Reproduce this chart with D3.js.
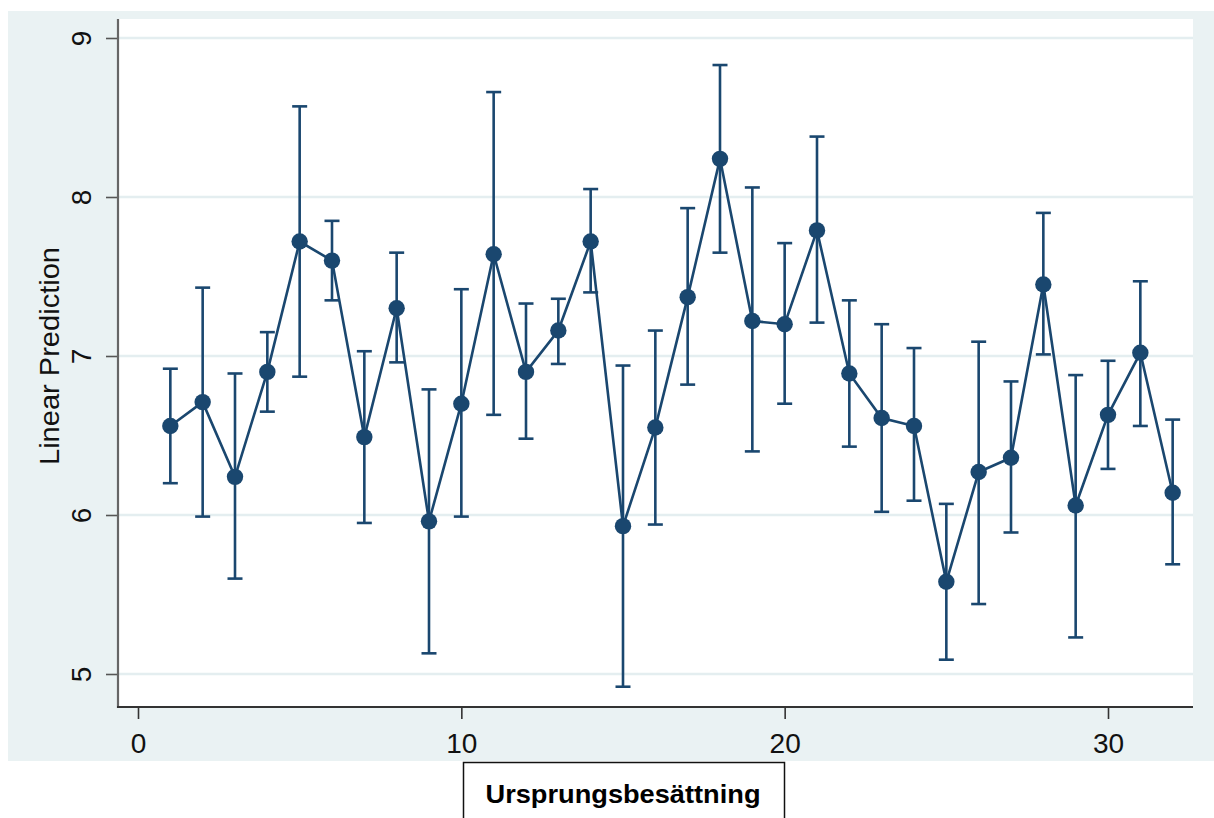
<!DOCTYPE html>
<html>
<head>
<meta charset="utf-8">
<script src="https://cdn.jsdelivr.net/npm/d3@7"></script>
<style>
  html, body { margin: 0; padding: 0; background: #ffffff; }
  svg { display: block; }
</style>
</head>
<body>
<svg id="chart" width="1214" height="818"></svg>
<script>
// ---- data ----
const categories = [1,2,3,4,5,6,7,8,9,10,11,12,13,14,15,16,17,18,19,20,21,22,23,24,25,26,27,28,29,30,31,32];
const predictions = [6.56,6.71,6.24,6.90,7.72,7.60,6.49,7.30,5.96,6.70,7.64,6.90,7.16,7.72,5.93,6.55,7.37,8.24,7.22,7.20,7.79,6.89,6.61,6.56,5.58,6.27,6.36,7.45,6.06,6.63,7.02,6.14];
const ciLower   = [6.20,5.99,5.60,6.65,6.87,7.35,5.95,6.96,5.13,5.99,6.63,6.48,6.95,7.40,4.92,5.94,6.82,7.65,6.40,6.70,7.21,6.43,6.02,6.09,5.09,5.44,5.89,7.01,5.23,6.29,6.56,5.69];
const ciUpper   = [6.92,7.43,6.89,7.15,8.57,7.85,7.03,7.65,6.79,7.42,8.66,7.33,7.36,8.05,6.94,7.16,7.93,8.83,8.06,7.71,8.38,7.35,7.20,7.05,6.07,7.09,6.84,7.90,6.88,6.97,7.47,6.60];
const xTicks = [0,10,20,30];
const yTicks = [5,6,7,8,9];
const yTitle = "Linear Prediction";
const xBoxLabel = "Ursprungsbesättning";

const data = categories.map((c,i)=>({x:c, y:predictions[i], lo:ciLower[i], hi:ciUpper[i]}));

// ---- layout ----
const svg = d3.select("#chart");
const navy = "#1a476f";
const bgBlue = "#eaf2f3";

const plot = {left:119, right:1193, top:19, bottom:707};
const x = d3.scaleLinear().domain([0,30]).range([138,1108]);
const y = d3.scaleLinear().domain([5,9]).range([674,38]);

// graph region background
svg.append("rect").attr("x",8).attr("y",11).attr("width",1214-8).attr("height",761-11).attr("fill",bgBlue);
// plot region
svg.append("rect").attr("x",plot.left).attr("y",plot.top)
  .attr("width",plot.right-plot.left).attr("height",plot.bottom-plot.top).attr("fill","#ffffff");

// gridlines
svg.append("g").selectAll("line").data(yTicks).join("line")
  .attr("x1",plot.left).attr("x2",plot.right)
  .attr("y1",d=>y(d)).attr("y2",d=>y(d))
  .attr("stroke","#e4eef0").attr("stroke-width",2.5);

// y axis
const yAxis = svg.append("g").attr("transform",`translate(${plot.left-1},0)`)
  .call(d3.axisLeft(y).tickValues(yTicks).tickSize(12).tickPadding(14).tickFormat(d3.format("d")));
yAxis.select(".domain").remove();
yAxis.selectAll(".tick line").attr("stroke","#555").attr("stroke-width",1.6);
yAxis.selectAll(".tick text")
  .attr("x",null).attr("dy",null)
  .attr("transform","translate(-27,0) rotate(-90)")
  .attr("text-anchor","middle")
  .attr("dominant-baseline","auto")
  .attr("y",0)
  .attr("font-family","Liberation Sans, Arial, sans-serif")
  .attr("font-size",28).attr("fill","#111");
svg.append("line").attr("x1",plot.left-1).attr("x2",plot.left-1)
  .attr("y1",plot.top).attr("y2",plot.bottom+1)
  .attr("stroke","#666").attr("stroke-width",2.2);

// x axis
const xAxis = svg.append("g").attr("transform",`translate(0,${plot.bottom})`)
  .call(d3.axisBottom(x).tickValues(xTicks).tickSize(12).tickPadding(8).tickFormat(d3.format("d")));
xAxis.select(".domain").remove();
xAxis.selectAll(".tick line").attr("stroke","#333").attr("stroke-width",1.6);
xAxis.selectAll(".tick text")
  .attr("dy",null).attr("y",46)
  .attr("font-family","Liberation Sans, Arial, sans-serif")
  .attr("font-size",28).attr("fill","#111");
svg.append("line").attr("x1",plot.left-2).attr("x2",plot.right)
  .attr("y1",plot.bottom).attr("y2",plot.bottom)
  .attr("stroke","#333").attr("stroke-width",2.2);

// y title
svg.append("text")
  .attr("transform",`translate(59,356) rotate(-90)`)
  .attr("text-anchor","middle")
  .attr("font-family","Liberation Sans, Arial, sans-serif")
  .attr("font-size",28)
  .attr("textLength",218).attr("lengthAdjust","spacingAndGlyphs")
  .attr("fill","#111")
  .text(yTitle);

// error bars
const cap = 7.5;
const eb = svg.append("g").attr("stroke",navy).attr("stroke-width",2.6).attr("fill","none");
eb.selectAll("line.v").data(data).join("line").attr("class","v")
  .attr("x1",d=>x(d.x)).attr("x2",d=>x(d.x))
  .attr("y1",d=>y(d.lo)).attr("y2",d=>y(d.hi));
eb.selectAll("line.t").data(data).join("line").attr("class","t")
  .attr("x1",d=>x(d.x)-cap).attr("x2",d=>x(d.x)+cap)
  .attr("y1",d=>y(d.hi)).attr("y2",d=>y(d.hi));
eb.selectAll("line.b").data(data).join("line").attr("class","b")
  .attr("x1",d=>x(d.x)-cap).attr("x2",d=>x(d.x)+cap)
  .attr("y1",d=>y(d.lo)).attr("y2",d=>y(d.lo));

// connecting line
svg.append("path").datum(data)
  .attr("d", d3.line().x(d=>x(d.x)).y(d=>y(d.y)))
  .attr("fill","none").attr("stroke",navy).attr("stroke-width",2.6);

// markers
svg.append("g").selectAll("circle").data(data).join("circle")
  .attr("cx",d=>x(d.x)).attr("cy",d=>y(d.y)).attr("r",8.2)
  .attr("fill",navy);

// label box below the axis
svg.append("rect").attr("x",463.5).attr("y",762.5).attr("width",321).attr("height",70)
  .attr("fill","#ffffff").attr("stroke","#111").attr("stroke-width",1.5);
svg.append("text").attr("x",623).attr("y",803)
  .attr("text-anchor","middle")
  .attr("font-family","Liberation Sans, Arial, sans-serif")
  .attr("font-weight","bold").attr("font-size",25)
  .attr("textLength",275).attr("lengthAdjust","spacingAndGlyphs")
  .attr("fill","#000")
  .text(xBoxLabel);
</script>
</body>
</html>
